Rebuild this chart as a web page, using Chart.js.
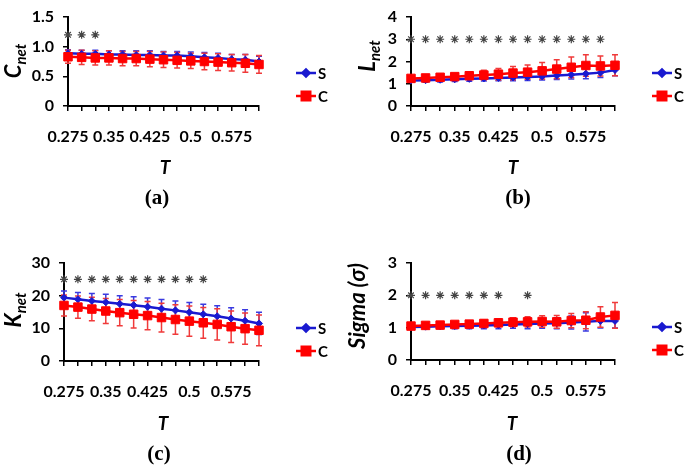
<!DOCTYPE html>
<html>
<head>
<meta charset="utf-8">
<script src="https://cdn.jsdelivr.net/npm/chart.js@4.4.1/dist/chart.umd.min.js"></script>
<style>
  body { margin: 0; background: #fff; }
  #wrap { position: relative; width: 685px; height: 469px; overflow: hidden; font-family: Lato, "Open Sans", sans-serif; }
  canvas { position: absolute; }
  .lbl { position: absolute; transform: translate(-50%, -50%); white-space: nowrap; color: #000; }
  .ytitle { font: italic bold 22px Lato, sans-serif; transform: translate(-50%, -50%) rotate(-90deg); }
  .ytitle .sub { font-size: 15px; position: relative; top: 5px; }
  .xt { font: italic bold 19px Lato, sans-serif; }
  .pl { font: bold 21px "Liberation Serif", serif; }
</style>
</head>
<body>
<div id="wrap">
  <canvas id="chartA" width="340" height="234" style="left:0;top:0"></canvas>
  <canvas id="chartB" width="345" height="234" style="left:340px;top:0"></canvas>
  <canvas id="chartC" width="340" height="234" style="left:0;top:235px"></canvas>
  <canvas id="chartD" width="345" height="234" style="left:340px;top:235px"></canvas>

  <div class="lbl ytitle" style="left:12px;top:61px">C<span class="sub">net</span></div>
  <div class="lbl ytitle" style="left:366px;top:56px">L<span class="sub">net</span></div>
  <div class="lbl ytitle" style="left:12px;top:310px">K<span class="sub">net</span></div>
  <div class="lbl ytitle" style="left:356px;top:306px">Sigma (σ)</div>

  <div class="lbl xt" style="left:165px;top:166px">T</div>
  <div class="lbl xt" style="left:513px;top:166px">T</div>
  <div class="lbl xt" style="left:163px;top:422px">T</div>
  <div class="lbl xt" style="left:512px;top:422px">T</div>

  <div class="lbl pl" style="left:157px;top:197px">(a)</div>
  <div class="lbl pl" style="left:518px;top:197px">(b)</div>
  <div class="lbl pl" style="left:159px;top:453px">(c)</div>
  <div class="lbl pl" style="left:519px;top:453px">(d)</div>
</div>
<script>
// categories (T)
const T = ['0.275','0.3','0.325','0.35','0.375','0.4','0.425','0.45','0.475','0.5','0.525','0.55','0.575','0.6','0.625'];

// (a) C_net
const cnetS    = [0.89,0.88,0.88,0.87,0.87,0.86,0.86,0.85,0.85,0.84,0.82,0.81,0.79,0.78,0.75];
const cnetSErr = [0.06,0.06,0.06,0.06,0.06,0.07,0.07,0.07,0.07,0.07,0.08,0.08,0.08,0.09,0.09];
const cnetC    = [0.83,0.82,0.81,0.81,0.80,0.80,0.79,0.78,0.77,0.76,0.75,0.74,0.73,0.72,0.70];
const cnetCErr = [0.11,0.12,0.12,0.12,0.12,0.12,0.13,0.13,0.13,0.13,0.14,0.14,0.14,0.15,0.15];
const cnetStar = [1.2,1.2,1.2,null,null,null,null,null,null,null,null,null,null,null,null];

// (b) L_net
const lnetS    = [1.15,1.16,1.18,1.20,1.22,1.24,1.26,1.28,1.30,1.33,1.37,1.41,1.45,1.50,1.62];
const lnetSErr = [0.08,0.09,0.10,0.10,0.11,0.12,0.13,0.14,0.15,0.16,0.18,0.20,0.22,0.22,0.26];
const lnetC    = [1.24,1.26,1.29,1.32,1.36,1.39,1.43,1.48,1.52,1.58,1.66,1.74,1.82,1.80,1.83];
const lnetCErr = [0.08,0.10,0.12,0.13,0.15,0.22,0.26,0.30,0.32,0.37,0.42,0.46,0.48,0.45,0.47];
const lnetStar = [3,3,3,3,3,3,3,3,3,3,3,3,3,3,null];

// (c) K_net
const knetS    = [19.4,18.9,18.4,18.0,17.5,17.1,16.6,16.0,15.5,14.9,14.3,13.7,13.0,12.3,11.5];
const knetSErr = [2.0,2.1,2.3,2.4,2.5,2.6,2.7,2.8,2.9,3.0,3.1,3.2,3.3,3.4,3.4];
const knetC    = [17.0,16.5,15.9,15.3,14.8,14.3,13.9,13.3,12.7,12.2,11.7,11.2,10.5,9.9,9.4];
const knetCErr = [3.2,3.4,3.6,3.8,4.0,4.2,4.3,4.4,4.5,4.6,4.7,4.8,4.8,4.8,4.7];
const knetStar = [25,25,25,25,25,25,25,25,25,25,25,null,null,null,null];

// (d) Sigma
const sigS    = [1.02,1.03,1.04,1.05,1.06,1.07,1.08,1.10,1.11,1.13,1.14,1.16,1.18,1.21,1.21];
const sigSErr = [0.05,0.06,0.07,0.08,0.09,0.10,0.11,0.12,0.14,0.15,0.17,0.20,0.28,0.22,0.22];
const sigC    = [1.05,1.07,1.08,1.10,1.11,1.13,1.15,1.17,1.18,1.19,1.18,1.22,1.23,1.33,1.38];
const sigCErr = [0.05,0.06,0.07,0.08,0.09,0.10,0.12,0.14,0.16,0.18,0.20,0.22,0.26,0.32,0.40];
const sigStar = [2,2,2,2,2,2,2,null,2,null,null,null,null,null,null];

const BLUE = '#1a1ad0';
const RED = '#ff0000';
const tickFont = { family: 'Lato', weight: 'bold', size: 16, lineHeight: 1 };

// error bars, drawn under the lines
const errorBars = {
  id: 'errorBars',
  beforeDatasetsDraw(chart) {
    const ctx = chart.ctx;
    const y = chart.scales.y;
    chart.data.datasets.forEach((ds, i) => {
      if (!ds.errors) return;
      const meta = chart.getDatasetMeta(i);
      ctx.save();
      ctx.strokeStyle = ds.errColor;
      ctx.lineWidth = 1.5;
      meta.data.forEach((pt, j) => {
        const v = ds.data[j], e = ds.errors[j];
        const top = y.getPixelForValue(v + e);
        const bot = y.getPixelForValue(v - e);
        ctx.beginPath();
        ctx.moveTo(pt.x, top); ctx.lineTo(pt.x, bot);
        ctx.moveTo(pt.x - 3, top); ctx.lineTo(pt.x + 3, top);
        ctx.moveTo(pt.x - 3, bot); ctx.lineTo(pt.x + 3, bot);
        ctx.stroke();
      });
      ctx.restore();
    });
  }
};

// Excel-like legend: line + marker + name
const seriesKey = {
  id: 'seriesKey',
  afterDraw(chart) {
    const ctx = chart.ctx;
    const a = chart.chartArea;
    const x0 = a.right + 37, x1 = a.right + 57;
    const rows = [a.bottom - 33, a.bottom - 10];
    [0, 1].forEach(i => {
      const ds = chart.data.datasets[i];
      const yy = rows[i];
      ctx.save();
      ctx.strokeStyle = ds.borderColor;
      ctx.lineWidth = 2.5;
      ctx.beginPath(); ctx.moveTo(x0, yy); ctx.lineTo(x1, yy); ctx.stroke();
      Chart.helpers.drawPoint(ctx, { pointStyle: ds.pointStyle, radius: ds.pointRadius, borderWidth: 1 }, (x0 + x1) / 2, yy);
      ctx.fillStyle = ds.borderColor;
      ctx.fill();
      ctx.fillStyle = '#000';
      ctx.font = 'bold 15px Lato';
      ctx.textBaseline = 'middle';
      ctx.fillText(ds.label, x1 + 2, yy + 1);
      ctx.restore();
    });
  }
};

function buildChart(id, o) {
  return new Chart(document.getElementById(id), {
    type: 'line',
    data: {
      labels: T,
      datasets: [
        { label: 'S', data: o.s, errors: o.sErr, errColor: '#3a3ae0', borderColor: BLUE, backgroundColor: BLUE,
          borderWidth: 2.5, pointStyle: 'rectRot', pointRadius: 3.5, pointBorderWidth: 1, order: 2 },
        { label: 'C', data: o.c, errors: o.cErr, errColor: '#f03a3a', borderColor: RED, backgroundColor: RED,
          borderWidth: 2.5, pointStyle: 'rect', pointRadius: 6, pointBorderWidth: 1, order: 1 },
        { label: '*', data: o.star, showLine: false, pointStyle: 'star', pointRadius: 4,
          borderColor: '#444', backgroundColor: '#444', pointBorderWidth: 1.2, order: 0 }
      ]
    },
    options: {
      responsive: false,
      animation: false,
      events: [],
      layout: { padding: { left: 0, top: o.top, right: o.right, bottom: 0 } },
      plugins: { legend: { display: false }, tooltip: { enabled: false } },
      scales: {
        x: {
          type: 'category',
          offset: false,
          grid: { offset: false, drawOnChartArea: false, color: '#000', lineWidth: 1.5, tickLength: 5 },
          border: { color: '#000', width: 2 },
          ticks: { autoSkip: false, maxRotation: 0, padding: 18, color: '#000', font: tickFont,
                   callback: (v, i) => (i % 3 === 0 ? T[i] : '') },
          afterFit: s => { s.height = o.xh; }
        },
        y: {
          min: 0, max: o.max,
          grid: { drawOnChartArea: false, color: '#000', lineWidth: 1.5, tickLength: 5 },
          border: { color: '#000', width: 2 },
          ticks: { stepSize: o.step, padding: 9, color: '#000', font: tickFont },
          afterFit: s => { s.width = o.left; }
        }
      }
    },
    plugins: [errorBars, seriesKey]
  });
}

buildChart('chartA', { s: cnetS, sErr: cnetSErr, c: cnetC, cErr: cnetCErr, star: cnetStar,
  max: 1.5, step: 0.5, left: 68, top: 8, right: 81, xh: 128 });
buildChart('chartB', { s: lnetS, sErr: lnetSErr, c: lnetC, cErr: lnetCErr, star: lnetStar,
  max: 4, step: 1, left: 71, top: 8, right: 70, xh: 128 });
buildChart('chartC', { s: knetS, sErr: knetSErr, c: knetC, cErr: knetCErr, star: knetStar,
  max: 30, step: 10, left: 64, top: 28, right: 81, xh: 108 });
buildChart('chartD', { s: sigS, sErr: sigSErr, c: sigC, cErr: sigCErr, star: sigStar,
  max: 3, step: 1, left: 71, top: 28, right: 70, xh: 109 });
</script>
</body>
</html>
